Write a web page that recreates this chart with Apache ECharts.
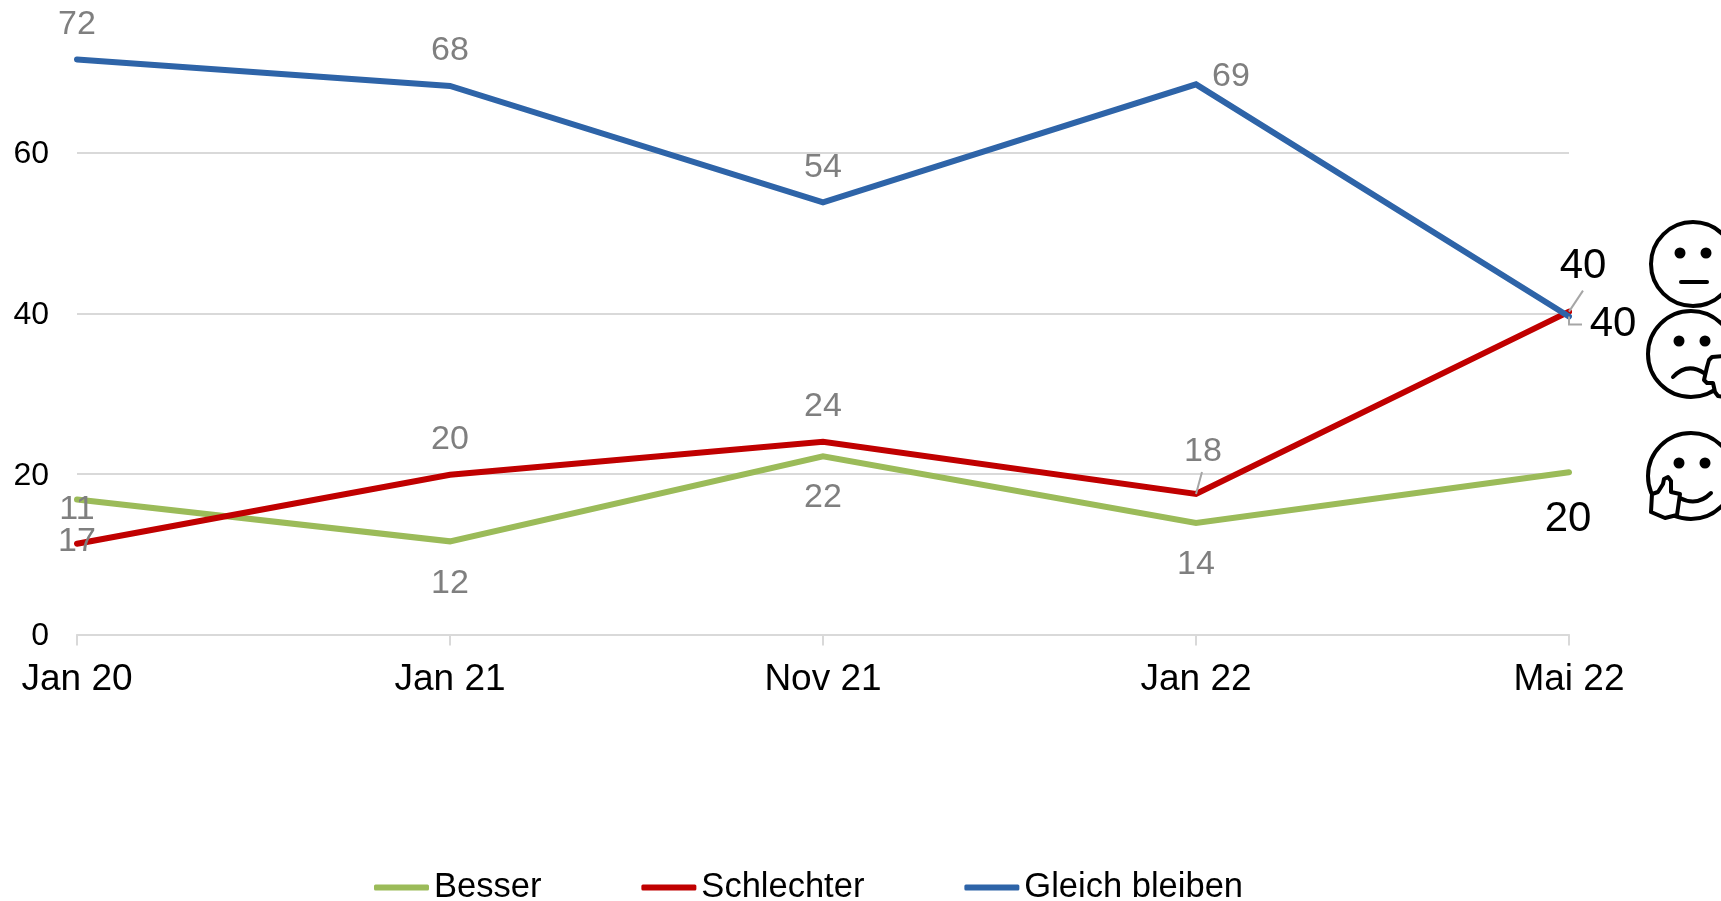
<!DOCTYPE html>
<html>
<head>
<meta charset="utf-8">
<style>html,body{margin:0;padding:0;background:#fff}#c{width:1721px;height:901px}</style>
<script src="https://cdn.jsdelivr.net/npm/echarts@6/dist/echarts.min.js"></script>
</head>
<body>
<div id="c"></div>
<script>
const categories = ['Jan 20', 'Jan 21', 'Nov 21', 'Jan 22', 'Mai 22'];
const yTicks = [0, 20, 40, 60, 80];
const besser = [16.8, 11.6, 22.2, 13.9, 20.2];
const schlechter = [11.3, 19.9, 24.0, 17.5, 40.2];
const gleich = [71.6, 68.3, 53.8, 68.5, 39.6];
const besserLabels = ['17', '12', '22', '14', '20'];
const schlechterLabels = ['11', '20', '24', '18', '40'];
const gleichLabels = ['72', '68', '54', '69', '40'];

// label placement (pixel offsets from the point)
const besserOffsets = [[0, 42], [0, 42], [0, 41], [0, 42], [-1, 47]];
const schlechterOffsets = [[0, -34], [0, -35], [0, -35], [7, -42], [14, -45]];
const gleichOffsets = [[0, -35], [0, -35], [0, -35], [35, -8], [44, 8]];
const leaderPoints = [[3, schlechter[3]], [4, schlechter[4]], [4, gleich[4]]];
const leaderPaths = [[[0, 0], [6, -22]], [[0, 0], [14, -21]], [[0, 0], [0, 8], [13, 8]]];

const GREEN = '#9BBB59', RED = '#C00000', BLUE = '#2E64A8', GRAY = '#7F7F7F';
const FONT = '"Liberation Sans", Arial, sans-serif';

function lineSeries(name, values, labels, offsets, color) {
  return {
    name, type: 'line', data: values.map((v, i) => ({
      value: v,
      label: {
        show: true, position: 'inside', align: 'center', verticalAlign: 'middle',
        offset: offsets[i], formatter: labels[i], fontFamily: FONT,
        fontSize: i === 4 ? 42 : 34, color: i === 4 ? '#000' : GRAY
      }
    })),
    symbol: 'circle', symbolSize: 2, showSymbol: true, showAllSymbol: true, smooth: false,
    lineStyle: { color, width: 6, cap: 'round', join: 'miter' },
    itemStyle: { color }, emphasis: { disabled: true }, silent: true, z: 3
  };
}

const pen = { stroke: '#000', lineWidth: 4, lineCap: 'round', lineJoin: 'round' };
const face = (cx, cy, r, ex1, ex2, ey) => [
  { type: 'circle', shape: { cx, cy, r }, style: { fill: '#fff', stroke: '#000', lineWidth: 4 } },
  { type: 'circle', shape: { cx: ex1, cy: ey, r: 5.5 }, style: { fill: '#000' } },
  { type: 'circle', shape: { cx: ex2, cy: ey, r: 5.5 }, style: { fill: '#000' } }
];
const curve = (x1, y1, cpx1, cpy1, x2, y2) => ({
  type: 'bezierCurve', shape: { x1, y1, cpx1, cpy1, x2, y2 }, style: { fill: 'none', ...pen }
});
const hand = (type, points) => ({
  type, shape: { points }, style: { fill: '#fff', ...pen }
});

const chart = echarts.init(document.getElementById('c'), null, { renderer: 'canvas' });
chart.setOption({
  animation: false,
  backgroundColor: '#fff',
  textStyle: { fontFamily: FONT },
  grid: { left: 77, right: 152, top: -8, height: 642.5, containLabel: false, outerBoundsMode: 'none' },
  xAxis: {
    type: 'category', data: categories, boundaryGap: false,
    axisLine: { show: true, lineStyle: { color: '#D9D9D9', width: 2 } },
    axisTick: { show: true, length: 11, alignWithLabel: true, lineStyle: { color: '#D9D9D9', width: 2 } },
    axisLabel: { color: '#000', fontSize: 37, margin: 27, fontFamily: FONT, hideOverlap: false, interval: 0, showMinLabel: true, showMaxLabel: true }
  },
  yAxis: {
    type: 'value', min: yTicks[0], max: yTicks[yTicks.length - 1], interval: 20,
    axisLine: { show: false }, axisTick: { show: false },
    splitLine: { lineStyle: { color: '#D9D9D9', width: 2 } },
    axisLabel: {
      margin: 28, showMaxLabel: false, formatter: '{t|{value}}',
      rich: { t: { color: '#000', fontSize: 32, fontFamily: FONT, padding: [4, 0, 0, 0] } }
    }
  },
  legend: {
    data: ['Besser', 'Schlechter', 'Gleich bleiben'],
    left: 374, top: 870, itemWidth: 55, itemHeight: 6, itemGap: 100,
    icon: 'roundRect', padding: 0,
    textStyle: { color: '#000', fontSize: 34.5, fontFamily: FONT }
  },
  series: [
    lineSeries('Besser', besser, besserLabels, besserOffsets, GREEN),
    lineSeries('Schlechter', schlechter, schlechterLabels, schlechterOffsets, RED),
    lineSeries('Gleich bleiben', gleich, gleichLabels, gleichOffsets, BLUE),
    {
      type: 'custom', name: 'leader', silent: true, z: 4, clip: false,
      data: leaderPoints,
      encode: { x: 0, y: 1 },
      renderItem(params, api) {
        const p = api.coord([api.value(0), api.value(1)]);
        return {
          type: 'polyline',
          shape: { points: leaderPaths[params.dataIndex].map(o => [p[0] + o[0], p[1] + o[1]]) },
          style: { fill: 'none', stroke: '#A6A6A6', lineWidth: 2 }
        };
      }
    }
  ],
  graphic: { elements: [
    ...face(1693, 264, 42, 1680, 1706, 253),
    { type: 'line', shape: { x1: 1681, y1: 282, x2: 1707, y2: 282 }, style: pen },
    ...face(1691, 354, 43, 1679, 1705, 341),
    curve(1673, 377, 1687, 362, 1704, 373),
    hand('polyline', [[1724, 356], [1712, 357], [1709, 360], [1707, 367], [1704, 380], [1707, 383], [1713, 383], [1715, 392], [1718, 396], [1724, 397]]),
    ...face(1691, 476, 43, 1679, 1705, 463),
    curve(1680, 498, 1697, 507, 1711, 493),
    hand('polygon', [[1651, 512], [1652, 494], [1658, 492], [1663, 484], [1664, 479], [1668, 477], [1671, 481], [1671, 492], [1680, 494], [1677, 515], [1665, 518]])
  ] }
});
</script>
</body>
</html>
